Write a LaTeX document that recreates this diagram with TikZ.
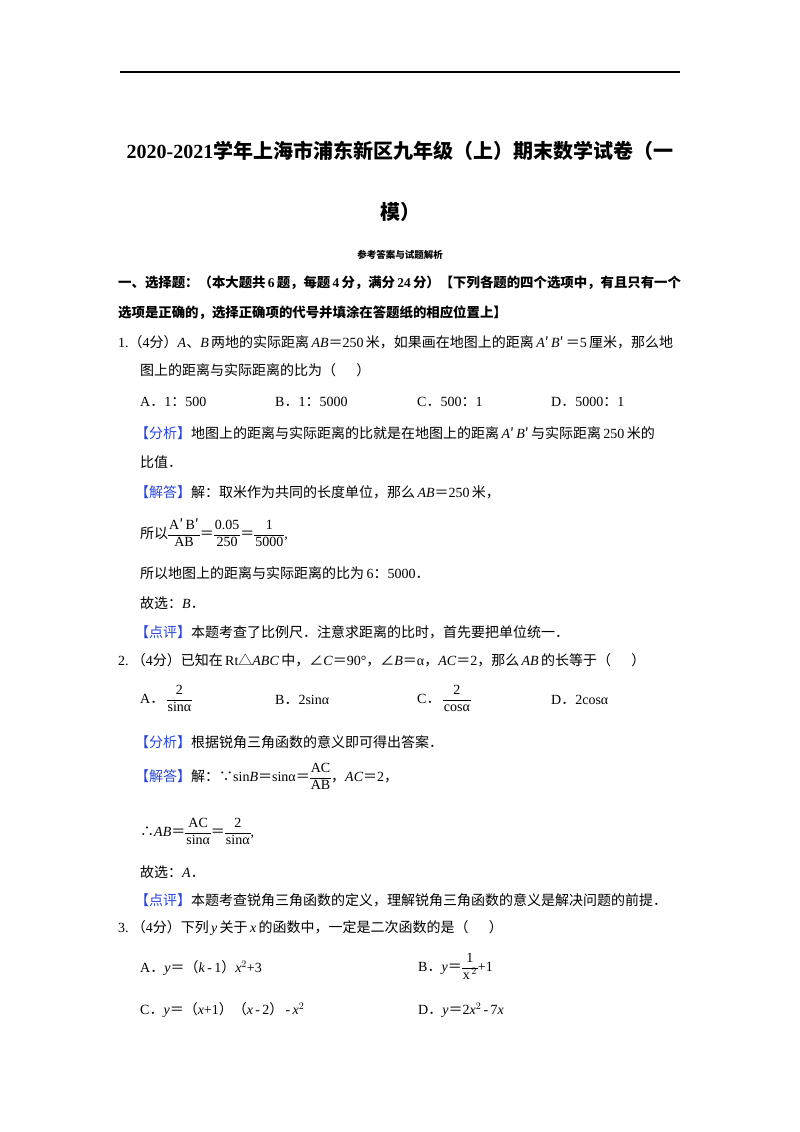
\documentclass[tikz,border=0pt]{standalone}
\usepackage{fontspec}
\setmainfont{Liberation Serif}
\newfontfamily\cjk{Noto Sans CJK SC}
\newcommand{\zh}[1]{{\cjk #1}}
\newcommand{\fr}[2]{\ensuremath{\vcenter{\hbox{\renewcommand{\arraystretch}{1.05}\setlength{\tabcolsep}{1pt}\begin{tabular}{c}#1\\\hline #2\end{tabular}}}}}
\definecolor{bl}{RGB}{40,70,220}
\begin{document}
\begin{tikzpicture}[x=1pt,y=-1pt,
  t/.style={anchor=west,inner sep=0pt,font=\fontsize{14}{16}\selectfont},
  hd/.style={anchor=west,inner sep=0pt,font=\fontsize{13.4}{16}\selectfont\bfseries},
  mf/.style={anchor=west,inner sep=0pt,font=\fontsize{14}{16}\selectfont}]
\useasboundingbox (0,0) rectangle (800,1132);
\draw[line width=1.2pt] (120,72) -- (680,72);
\node[inner sep=0pt,font=\fontsize{20}{22}\selectfont\bfseries] (title) at (400,151) {2020-2021\zh{学年上海市浦东新区九年级（上）期末数学试卷（一}};
\node[inner sep=0pt,font=\fontsize{20}{22}\selectfont\bfseries] (title2) at (400,212) {\zh{模）}};
\node[inner sep=0pt,font=\fontsize{9.5}{10}\selectfont\bfseries] (sub) at (400,255) {\zh{参考答案与试题解析}};
\node[hd] (h1) at (118,283) {\zh{一、选择题：（本大题共}\,6\,\zh{题，每题}\,4\,\zh{分，满分}\,24\,\zh{分）【下列各题的四个选项中，有且只有一个}};
\node[hd] (h2) at (118,313) {\zh{选项是正确的，选择正确项的代号并填涂在答题纸的相应位置上】}};
\node[t] (q1) at (118,342) {1.\zh{（}4\zh{分）}\textit{A}\zh{、}\textit{B}\,\zh{两地的实际距离}\,\textit{AB}\zh{＝}250\,\zh{米，如果画在地图上的距离}\,\textit{A}\zh{′}\,\textit{B}\zh{′}\,\zh{＝}5\,\zh{厘米，那么地}};
\node[t] (q1b) at (140,370) {\zh{图上的距离与实际距离的比为（\quad\ \ ）}};
\node[t] (o1a) at (140,402) {A\zh{．}1\zh{：}500};
\node[t] (o1b) at (275,402) {B\zh{．}1\zh{：}5000};
\node[t] (o1c) at (417,402) {C\zh{．}500\zh{：}1};
\node[t] (o1d) at (551,402) {D\zh{．}5000\zh{：}1};
\node[t] (a1) at (135,433) {\textcolor{bl}{\zh{【分析】}}\zh{地图上的距离与实际距离的比就是在地图上的距离}\,\textit{A}\zh{′}\,\textit{B}\zh{′}\,\zh{与实际距离}\,250\,\zh{米的}};
\node[t] (a1b) at (140,462) {\zh{比值．}};
\node[t] (s1) at (135,492) {\textcolor{bl}{\zh{【解答】}}\zh{解：取米作为共同的长度单位，那么}\,\textit{AB}\zh{＝}250\,\zh{米，}};
\node[mf] (s1b) at (140,535) {\zh{所以}\fr{A\zh{′}\,B\zh{′}}{AB}\zh{＝}\fr{0.05}{250}\zh{＝}\fr{1}{5000},};
\node[t] (s1c) at (140,573) {\zh{所以地图上的距离与实际距离的比为}\,6\zh{：}5000\zh{．}};
\node[t] (s1d) at (140,603) {\zh{故选：}\textit{B}\zh{．}};
\node[t] (p1) at (135,632) {\textcolor{bl}{\zh{【点评】}}\zh{本题考查了比例尺．注意求距离的比时，首先要把单位统一．}};
\node[t] (q2) at (118,660) {2.\zh{\ （}4\zh{分）已知在}\,Rt\zh{△}\textit{ABC}\,\zh{中，∠}\textit{C}\zh{＝}90°\zh{，∠}\textit{B}\zh{＝}α\zh{，}\textit{AC}\zh{＝}2\zh{，那么}\,\textit{AB}\,\zh{的长等于（\quad\ \ ）}};
\node[mf] (o2a) at (140,700) {A\zh{．}\,\fr{\,2\,}{sinα}};
\node[t] (o2b) at (275,700) {B\zh{．}2sinα};
\node[mf] (o2c) at (417,700) {C\zh{．}\,\fr{\,2\,}{cosα}};
\node[t] (o2d) at (551,700) {D\zh{．}2cosα};
\node[t] (a2) at (135,742) {\textcolor{bl}{\zh{【分析】}}\zh{根据锐角三角函数的意义即可得出答案．}};
\node[mf] (s2) at (135,778) {\textcolor{bl}{\zh{【解答】}}\zh{解：∵}sin\textit{B}\zh{＝}sinα\zh{＝}\fr{AC}{AB}\zh{，}\textit{AC}\zh{＝}2\zh{，}};
\node[mf] (s2b) at (140,833) {\zh{∴}\textit{AB}\zh{＝}\fr{AC}{sinα}\zh{＝}\fr{2}{sinα},};
\node[t] (s2c) at (140,872) {\zh{故选：}\textit{A}\zh{．}};
\node[t] (p2) at (135,900) {\textcolor{bl}{\zh{【点评】}}\zh{本题考查锐角三角函数的定义，理解锐角三角函数的意义是解决问题的前提．}};
\node[t] (q3) at (118,928) {3.\zh{\ （}4\zh{分）下列}\,\textit{y}\,\zh{关于}\,\textit{x}\,\zh{的函数中，一定是二次函数的是（\quad\ \ ）}};
\node[t] (o3a) at (140,968) {A\zh{．}\textit{y}\zh{＝（}\textit{k}\,-\,1\zh{）}\textit{x}$^2$+3};
\node[mf] (o3b) at (418,968) {B\zh{．}\textit{y}\zh{＝}\fr{1}{x$^{\,2}$}+1};
\node[t] (o3c) at (140,1010) {C\zh{．}\textit{y}\zh{＝（}\textit{x}+1\zh{）（}\textit{x}\,-\,2\zh{）}\,-\,\textit{x}$^2$};
\node[t] (o3d) at (418,1010) {D\zh{．}\textit{y}\zh{＝}2\textit{x}$^2$\,-\,7\textit{x}};
\end{tikzpicture}
\end{document}
